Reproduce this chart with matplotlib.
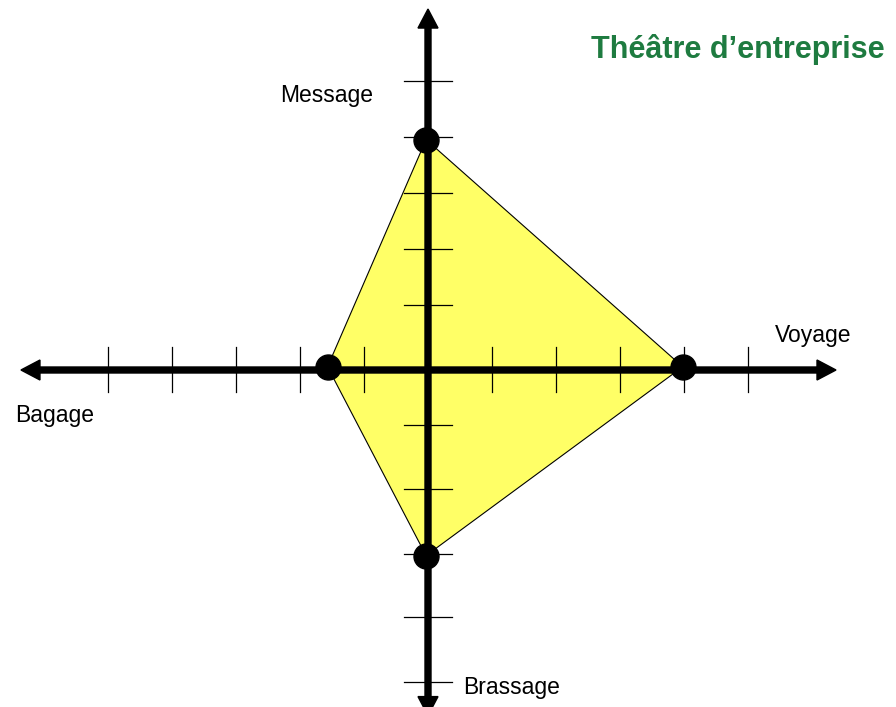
import matplotlib
matplotlib.use("Agg")
import matplotlib.pyplot as plt
from matplotlib.patches import Polygon

plt.rcParams['font.family'] = ['Liberation Sans', 'DejaVu Sans']

# values of the four criteria (Message up, Voyage right, Brassage down, Bagage left)
labels = ['Message', 'Voyage', 'Brassage', 'Bagage']
pts_x = [-0.03, 3.98, -0.03, -1.57]
pts_y = [3.6, 0.05, -2.9, 0.05]

# tick positions along the axes (hand-drawn, not quite regular)
x_ticks = [-5, -4, -3, -2, -1, 1, 2, 3, 4, 5]
y_ticks = [4.52, 3.64, 2.77, 1.89, 1.02, -0.86, -1.86, -2.87, -3.86, -4.87]

title = 'Théâtre d’entreprise'

# canvas: 1 unit = 64 px, origin where the axes cross
fig = plt.figure(figsize=(8.96, 7.07), dpi=100)
ax = fig.add_axes([0, 0, 1, 1])
ax.set_xlim(-428 / 64, (896 - 428) / 64)
ax.set_ylim(-(707 - 370) / 64, 370 / 64)
ax.axis('off')

# yellow shape
poly = Polygon(list(zip(pts_x, pts_y)), closed=True, facecolor='#FFFF66',
               edgecolor='black', linewidth=0.8, zorder=1)
ax.add_patch(poly)

# axes with arrows
arrow_kw = dict(width=6 / 64, head_width=20 / 64, head_length=19 / 64,
                length_includes_head=True, color='black', zorder=3)
ax.arrow(0, 0, 6.375, 0, **arrow_kw)
ax.arrow(0, 0, -6.36, 0, **arrow_kw)
ax.arrow(0, 0, 0, 5.64, **arrow_kw)
ax.arrow(0, 0, 0, -5.4, **arrow_kw)

# ticks
for t in x_ticks:
    ax.plot([t, t], [-0.34, 0.36], color='black', linewidth=0.9, zorder=2)
for t in y_ticks:
    ax.plot([-0.375, 0.375], [t, t], color='black', linewidth=0.9, zorder=2)

# points
ax.plot(pts_x, pts_y, 'o', color='black', markersize=18, zorder=4)

# labels
lab_pos = {'Message': (-2.31, 4.19), 'Voyage': (5.42, 0.44),
           'Brassage': (0.55, -5.06), 'Bagage': (-6.45, -0.81)}
for name in labels:
    x, y = lab_pos[name]
    ax.text(x, y, name, fontsize=16.5, ha='left', va='baseline', color='black')

ax.text(2.55, 4.875, title, fontsize=22, fontweight='bold', color='#1E7B40',
        ha='left', va='baseline')

fig.savefig('out.png', dpi=100)
